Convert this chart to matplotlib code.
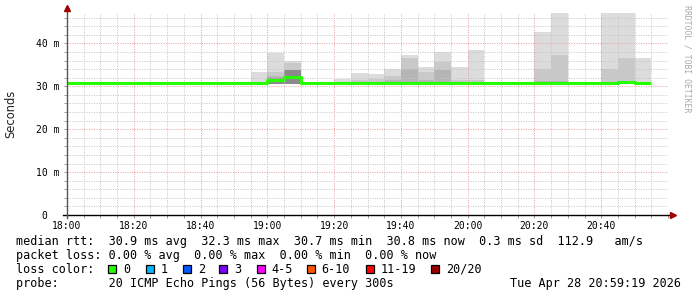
import matplotlib
matplotlib.use("Agg")
import matplotlib.pyplot as plt
from matplotlib.patches import Rectangle
from matplotlib.transforms import ScaledTranslation
import numpy as np

# ---------------- data ----------------
bin_minutes = 5
n_bins = 35  # 18:00 .. 20:55
bin_start = [i * bin_minutes for i in range(n_bins)]  # minutes after 18:00

median_ms = [30.7, 30.7, 30.7, 30.7, 30.7, 30.7, 30.7, 30.7, 30.7, 30.7, 30.7,
             30.7, 31.5, 32.2, 30.8, 30.8, 30.8, 30.8, 30.8, 30.8, 30.8,
             30.7, 30.7, 30.8, 30.8, 30.8, 30.8, 30.8, 30.8, 30.8, 30.8,
             30.8, 30.8, 31.0, 30.8]

# smoke layers (nan = no smoke)
nan = float("nan")
smoke_lo = [nan] * 11 + [30.5] * 24
smoke_light = [nan] * 11 + [33.4, 37.8, 36.0, nan, nan, 31.8, 33.1, 32.8, 34.1, 37.4,
                            34.5, 38.0, 34.5, 38.5, nan, nan, nan, 42.6, 48.0, nan,
                            nan, 48.0, 48.0, 36.6]
smoke_mid = [nan] * 11 + [nan, 33.4, 35.4, nan, nan, nan, 31.5, 31.6, 32.5, 36.7,
                          33.3, 35.6, 31.5, 31.4, nan, nan, nan, 34.0, 37.2, nan,
                          nan, 34.0, 36.6, nan]
smoke_dark = [nan] * 11 + [nan, 32.4, 33.8, nan, nan, nan, nan, nan, 31.5, 34.1,
                           31.5, 33.8, nan, nan, nan, nan, nan, 31.2, 31.3, nan,
                           nan, nan, nan, nan]
smoke_core = [nan] * 11 + [nan, 32.0, 33.8, nan, nan, nan, nan, nan, nan, nan,
                           nan, nan, nan, nan, nan, nan, nan, nan, nan, nan,
                           nan, nan, nan, nan]

x_tick_pos = [0, 20, 40, 60, 80, 100, 120, 140, 160]
x_tick_labels = ["18:00", "18:20", "18:40", "19:00", "19:20", "19:40", "20:00", "20:20", "20:40"]
y_tick_pos = [0, 10, 20, 30, 40]
y_tick_labels = ["0", "10 m", "20 m", "30 m", "40 m"]

loss_labels = ["0", "1", "2", "3", "4-5", "6-10", "11-19", "20/20"]
loss_colors = ["#26ff00", "#00b8ff", "#0059ff", "#7e00ff", "#ff00ff", "#ff5500", "#ff0000", "#a10000"]

stats_line = "median rtt:  30.9 ms avg  32.3 ms max  30.7 ms min  30.8 ms now  0.3 ms sd  112.9   am/s"
loss_line = "packet loss: 0.00 % avg  0.00 % max  0.00 % min  0.00 % now"
probe_line = "probe:       20 ICMP Echo Pings (56 Bytes) every 300s"
date_text = "Tue Apr 28 20:59:19 2026"

# ---------------- figure ----------------
W, H = 697, 297
fig = plt.figure(figsize=(W / 100, H / 100), dpi=100)
fig.patch.set_facecolor("white")

def fx(px):
    return px / W

def fy(py):
    return 1 - py / H

ax_left, ax_right, ax_top, ax_bottom = 67, 668, 12.5, 215
ax = fig.add_axes([fx(ax_left), fy(ax_bottom), (ax_right - ax_left) / W, (ax_bottom - ax_top) / H])
ax.set_xlim(0, 180)
ax.set_ylim(0, 47.2)

# smoke
layers = [(smoke_light, "#dcdcdc"), (smoke_mid, "#c9c9c9"), (smoke_dark, "#b5b5b5"), (smoke_core, "#8a8a8a")]
lo = np.array(smoke_lo)
for vals, col in layers:
    v = np.array(vals)
    ok = ~np.isnan(v)
    ax.bar(np.array(bin_start)[ok], (v - lo)[ok], bottom=lo[ok], width=bin_minutes,
           align="edge", color=col, linewidth=0, zorder=1)

# median line
xs = list(bin_start) + [bin_start[-1] + bin_minutes]
ys = list(median_ms) + [median_ms[-1]]
ax.step(xs, ys, where="post", color="#26ff00", lw=2.2, zorder=3, solid_capstyle="butt")

# grid
ax.set_xticks(x_tick_pos)
ax.set_xticklabels(x_tick_labels, family="DejaVu Sans Mono", fontsize=7)
ax.set_xticks(np.arange(0, 181, 5), minor=True)
ax.set_yticks(y_tick_pos)
ax.set_yticklabels(y_tick_labels, family="DejaVu Sans Mono", fontsize=7)
ax.set_yticks(np.arange(0, 47.2, 2), minor=True)
ax.grid(which="minor", color="#c6c6c6", linestyle=(0, (1, 1.4)), lw=0.72)
ax.grid(which="major", color="#eca0a0", linestyle=(0, (1, 1.4)), lw=0.72)
ax.set_axisbelow(False)
ax.tick_params(which="both", length=2, width=0.7, color="#999999", direction="out")
ax.tick_params(axis="x", pad=2.5)
ax.tick_params(axis="y", pad=3.5)
lbl0 = ax.get_yticklabels()[0]
lbl0.set_transform(lbl0.get_transform() + ScaledTranslation(-0.12, 0, fig.dpi_scale_trans))
for s in ax.spines.values():
    s.set_visible(False)

# axes lines with arrows
ax.plot([-0.007, 1.006], [0, 0], transform=ax.transAxes, color="black", lw=1, clip_on=False, zorder=5)
ax.plot([0, 0], [-0.015, 1.01], transform=ax.transAxes, color="#555555", lw=1, clip_on=False, zorder=5)
ax.plot([1.008], [0], marker=">", ms=4, color="#a00000", transform=ax.transAxes, clip_on=False, zorder=6)
ax.plot([0], [1.02], marker="^", ms=4, color="#a00000", transform=ax.transAxes, clip_on=False, zorder=6)

fig.text(fx(10.7), fy(114), "Seconds", rotation=90, fontsize=8.3, family="DejaVu Sans",
         color="#222222", ha="center", va="center")

# watermark
fig.text(fx(687), fy(59), "RRDTOOL / TOBI OETIKER", rotation=-90, fontsize=5.9,
         family="DejaVu Sans Mono", color="#aaaaaa", ha="center", va="center")

# legend text
mono = dict(family="DejaVu Sans Mono", fontsize=8.5, color="black", va="center", ha="left")
fig.text(fx(16), fy(241.5), stats_line, **mono)
fig.text(fx(16), fy(255.3), loss_line, **mono)
fig.text(fx(16), fy(269.2), "loss color:", **mono)
fig.text(fx(16), fy(283), probe_line, **mono)
fig.text(fx(681), fy(283), date_text, **dict(mono, ha="right"))

box_x = [108.3, 145.7, 182.7, 219.3, 256.7, 306.7, 365.7, 430.7]
for bx, lab, col in zip(box_x, loss_labels, loss_colors):
    fig.patches.append(Rectangle((fx(bx), fy(273.3)), 8 / W, 8.3 / H, transform=fig.transFigure,
                                 facecolor=col, edgecolor="black", lw=0.9))
    fig.text(fx(bx + 15), fy(269.2), lab, **mono)

fig.savefig("out.png", dpi=100)
